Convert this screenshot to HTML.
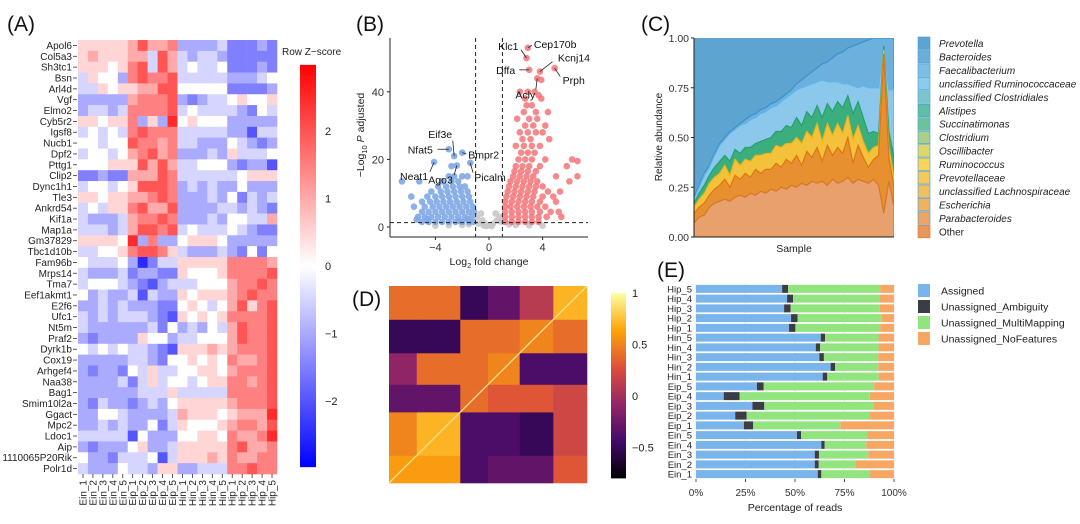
<!DOCTYPE html>
<html><head><meta charset="utf-8"><style>
html,body{margin:0;padding:0;background:#fff;}
svg{display:block;font-family:"Liberation Sans",sans-serif;}
</style></head><body>
<svg id="fig" width="1080" height="524" viewBox="0 0 1080 524" xmlns="http://www.w3.org/2000/svg">
<defs>
<linearGradient id="zgrad" x1="0" y1="0" x2="0" y2="1"><stop offset="0" stop-color="#ff0000"/><stop offset="0.5" stop-color="#ffffff"/><stop offset="1" stop-color="#0000ff"/></linearGradient>
<linearGradient id="igrad" x1="0" y1="1" x2="0" y2="0"><stop offset="0" stop-color="#000004"/><stop offset="0.2" stop-color="#420a68"/><stop offset="0.4" stop-color="#932667"/><stop offset="0.6" stop-color="#dd513a"/><stop offset="0.8" stop-color="#fca50a"/><stop offset="1" stop-color="#fcffa4"/></linearGradient>
<clipPath id="clipC"><rect x="694" y="38" width="200" height="199"/></clipPath>
</defs>
<g id="pA"></g>
<g id="pB"></g>
<g id="pC"></g>
<g id="pD"></g>
<g id="pE"></g>
</svg>
<script>
// ---------- Panel A data ----------
const genes = ["Apol6","Col5a3","Sh3tc1","Bsn","Arl4d","Vgf","Elmo2","Cyb5r2","Igsf8","Nucb1","Dpf2","Pttg1","Clip2","Dync1h1","Tle3","Ankrd54","Kif1a","Map1a","Gm37829","Tbc1d10b","Fam96b","Mrps14","Tma7","Eef1akmt1","E2f6","Ufc1","Nt5m","Praf2","Dyrk1b","Cox19","Arhgef4","Naa38","Bag1","Smim10l2a","Ggact","Mpc2","Ldoc1","Aip","1110065P20Rik","Polr1d"];
const samples = ["Ein_1","Ein_2","Ein_3","Ein_4","Ein_5","Eip_1","Eip_2","Eip_3","Eip_4","Eip_5","Hin_1","Hin_2","Hin_3","Hin_4","Hin_5","Hip_1","Hip_2","Hip_3","Hip_4","Hip_5"];
// z-scores coded a..k = -2.5..2.5 (step 0.5)
const zRows = ["ggggghjhhiddddecccdc","ghggghhejhedeedccccc","gggfgijejhefeefcccdc","egffdijiijeeeeedddef","eegfgghhjjfffffccccd","dddddhiiijdcdeefgffg","deedeiiiijefeeeedcfe","ggfggidgdkfgfffddddd","efefeijiiieeeeeddbee","ffeffjiihieedddfedcd","effefhijhidddedgeeef","fffgggjhjheefffdcddb","ccdcchhhjieeeeeefggg","effefgjjjidededdfddd","ggfgghhijidddedfcede","efeggijhhjddddeededc","edddehiijidddedffeeh","eeedehjjijefeeefedcc","ggggfkdiddfgggfddddd","eeffgijjigedddedcfcf","feeefdaceegggggiiiih","edddecddccgfffgiiiij","efffedcbdeeefffhiiji","fdeddebeddgfggghijii","ddededddccfgfefhjgij","ededeeedcbgfgfgiiiij","eddddddecfdedfehjiij","dcddddgffdeefffhjiij","fefefeedcbggghghiiij","dddddeedcffgfgfihhij","dcddcfegeeffggfhiiij","ddddecegeffefggiihij","ddddddeeegeeeeeiiiij","dceddcdedfggggghiiij","ddffeddddehgggfghhhk","ddededdfcegfffghiihj","eeeeebfdddffggfihhik","dcdddfgddegggggijhhi","fddceeefbeggghgihhii","edddfeedggddeeeiijii"];
const zTicks = [2,1,0,-1,-2];
// ---------- Panel B data ----------
const bluePts = [[-5,1.5],[-4.5,1.5],[-4,1.5],[-3.5,1.5],[-3,1.5],[-2.5,1.5],[-2,1.5],[-1.5,1.5],[-1.2,1.5],[-5.3,3],[-4.8,3],[-4.3,3],[-3.8,3],[-3.3,3],[-2.8,3],[-2.3,3],[-1.8,3],[-1.3,3],[-5,4.5],[-4.5,4.5],[-4,4.5],[-3.5,4.5],[-3,4.5],[-2.5,4.5],[-2,4.5],[-1.5,4.5],[-1.1,4.5],[-5.6,6],[-4.8,6],[-4.2,6],[-3.7,6],[-3.2,6],[-2.7,6],[-2.2,6],[-1.7,6],[-1.2,6],[-5,7.5],[-4.4,7.5],[-3.9,7.5],[-3.4,7.5],[-2.9,7.5],[-2.4,7.5],[-1.9,7.5],[-1.4,7.5],[-5.8,9],[-4.6,9],[-4,9],[-3.5,9],[-3,9],[-2.5,9],[-2,9],[-1.5,9],[-4.3,10.5],[-3.6,10.5],[-3.1,10.5],[-2.6,10.5],[-2.1,10.5],[-1.6,10.5],[-3.8,12],[-3.2,12],[-2.7,12],[-2.2,12],[-1.8,12],[-6.5,13.5],[-5.2,13.5],[-3.5,13.5],[-2.8,13.5],[-2.3,13.5],[-3,15],[-2.6,15],[-2,15],[-1.6,15],[-4.1,19.2],[-3,23],[-2.6,21],[-2,22],[-2.8,18],[-2.4,18.2],[-1.4,19],[-5.4,2.2],[-4.6,2.3],[-2.2,1.8],[-1.6,2.4]];
const redPts = [[1.2,1.5],[1.7,1.5],[2.2,1.5],[2.7,1.5],[3.2,1.5],[3.7,1.5],[1.2,3],[1.7,3],[2.2,3],[2.7,3],[3.2,3],[3.7,3],[4.3,3],[5.4,3],[1.2,4.5],[1.7,4.5],[2.2,4.5],[2.7,4.5],[3.2,4.5],[3.8,4.5],[4.6,4.5],[5.2,4.5],[1.2,6],[1.6,6],[2.1,6],[2.6,6],[3.1,6],[3.6,6],[4.2,6],[1.2,7.5],[1.7,7.5],[2.2,7.5],[2.7,7.5],[3.2,7.5],[3.8,7.5],[5,7.5],[1.3,9],[1.8,9],[2.3,9],[2.8,9],[3.3,9],[4,9],[4.8,9],[1.4,10.5],[1.9,10.5],[2.4,10.5],[2.9,10.5],[3.4,10.5],[4.4,10.5],[5.3,10.5],[1.5,12],[2,12],[2.5,12],[3,12],[3.5,12],[4,12],[1.6,13.5],[2.1,13.5],[2.6,13.5],[3.1,13.5],[3.6,13.5],[6,13.5],[1.8,15],[2.3,15],[2.8,15],[3.3,15],[5,15],[6.6,15],[1.9,16.5],[2.4,16.5],[2.9,16.5],[3.5,16.5],[2,18],[2.5,18],[3,18],[3.8,18],[5.8,18],[2.2,20],[2.7,20],[3.2,20],[4.2,20],[6.2,20],[6.6,19.5],[2.4,22],[2.9,22],[3.4,22],[2,24],[2.6,24],[3.2,24],[3.8,24],[2.5,26],[3.1,26],[4.5,26],[2.3,28],[2.9,28],[3.5,28],[4,28],[2.7,30],[3.3,30],[4.2,30],[2.1,32],[3,32],[3.6,32],[2.6,34],[3.5,34],[4.4,34],[2.8,36],[3.2,36],[2.7,38],[3.9,38],[2.3,40],[2.9,40],[3.4,40],[2.8,50],[2.9,53],[3,46.5],[3.8,46],[3.6,44],[4.9,47],[3.9,43.5],[3.7,39]];
const grayPts = [[-0.8,1],[-0.5,2],[-0.3,1],[0,0.5],[0.3,1],[0.6,2],[0.8,3],[-0.9,3],[0.5,4],[-0.6,4],[0.2,0.3],[-0.2,0.3],[0.9,1.5],[-0.4,0.5],[-3,0.5],[-2,0.6],[2,0.6],[3,0.5],[-1.5,0.8],[1.5,0.8],[-4,0.4],[4,0.4]];
const geneLabels = [["Klc1",2.8,50],["Cep170b",2.9,53],["Dffa",3,46.5],["Kcnj14",3.8,46],["Acly",3.6,44],["Prph",4.9,47],["Nfat5",-3,23],["Eif3e",-2.6,21],["Bmpr2",-2,22],["Neat1",-4.1,19.2],["Ago3",-2.4,18.2],["Picalm",-1.4,19]];
const labelOffsets = [[-8,-12],[6,-4],[-14,0],[18,-14],[-2,16],[8,12],[-16,0],[-2,-22],[6,2],[-6,14],[-4,14],[4,14]];
const bxTicks = [-4,0,4];
const byTicks = [0,20,40];
// ---------- Panel C data ----------
const taxa = ["Prevotella","Bacteroides","Faecalibacterium","unclassified Ruminococcaceae","unclassified Clostridiales","Alistipes","Succinatimonas","Clostridium","Oscillibacter","Ruminococcus","Prevotellaceae","unclassified Lachnospiraceae","Escherichia","Parabacteroides","Other"];
const taxaColors = ["#5ea4d0","#6aaedc","#7dbde6","#8ccbee","#79c6cc","#5fbfa6","#6cc39b","#a9cf8a","#ddd76a","#f6d55c","#f3c95a","#f0c060","#edb262","#eba564","#e8965e"];
const prevBound = [0.2,0.26,0.32,0.36,0.42,0.47,0.5,0.53,0.55,0.57,0.59,0.61,0.62,0.64,0.65,0.67,0.68,0.7,0.72,0.74,0.77,0.79,0.81,0.83,0.85,0.87,0.88,0.9,0.92,0.93,0.95,0.96,0.97,0.98,0.99,1,1,1,1,1];
const otherAb = [0.07,0.1,0.11,0.15,0.17,0.18,0.19,0.18,0.2,0.21,0.2,0.22,0.21,0.23,0.22,0.24,0.23,0.25,0.24,0.26,0.25,0.27,0.26,0.28,0.27,0.28,0.26,0.29,0.27,0.28,0.3,0.27,0.29,0.28,0.27,0.29,0.26,0.12,0.28,0.15];
const orangeAb = [0.05,0.05,0.06,0.06,0.07,0.08,0.1,0.07,0.11,0.08,0.12,0.08,0.13,0.09,0.12,0.1,0.14,0.1,0.15,0.11,0.16,0.09,0.17,0.12,0.18,0.1,0.2,0.12,0.18,0.14,0.2,0.1,0.17,0.12,0.08,0.1,0.15,0.8,0.12,0.1];
const yellowAb = [0.03,0.04,0.05,0.06,0.06,0.06,0.07,0.06,0.08,0.07,0.07,0.08,0.07,0.09,0.08,0.08,0.09,0.1,0.08,0.1,0.09,0.11,0.1,0.1,0.12,0.1,0.11,0.1,0.12,0.1,0.11,0.12,0.1,0.08,0.07,0.06,0.05,0.02,0.05,0.05];
const greenAb = [0.02,0.03,0.04,0.04,0.05,0.06,0.05,0.07,0.05,0.06,0.06,0.07,0.06,0.07,0.07,0.08,0.07,0.08,0.09,0.08,0.1,0.09,0.1,0.1,0.09,0.12,0.1,0.12,0.11,0.13,0.1,0.13,0.12,0.12,0.1,0.08,0.06,0.02,0.08,0.1];
const bacteroidesAb = [0.01,0.01,0.01,0.01,0.01,0.01,0.01,0.01,0.01,0.01,0.02,0.02,0.02,0.02,0.02,0.02,0.02,0.02,0.02,0.02,0.03,0.04,0.05,0.06,0.07,0.08,0.1,0.12,0.14,0.16,0.18,0.2,0.22,0.22,0.24,0.25,0.25,0.25,0.26,0.26];
const cTicks = ["0.00","0.25","0.50","0.75","1.00"];
// ---------- Panel D data ----------
const corrBounds = [0,0.14,0.36,0.5,0.66,0.83,1];
const corrMatrix = [
 [0.6,0.6,-0.4,-0.3,-0.3,0.3],
 [0.5,0.7,-0.4,-0.4,-0.5,0.2],
 [-0.3,-0.3,0.4,0.3,0.3,0.2],
 [-0.1,0.4,0.4,0.5,-0.4,-0.4],
 [-0.5,-0.5,0.4,0.4,0.5,0.4],
 [0.4,0.4,-0.5,-0.3,0.1,0.7]];
const dTicks = [1,0.5,0,-0.5];
// ---------- Panel E data ----------
const eSamples = ["Hip_5","Hip_4","Hip_3","Hip_2","Hip_1","Hin_5","Hin_4","Hin_3","Hin_2","Hin_1","Eip_5","Eip_4","Eip_3","Eip_2","Eip_1","Ein_5","Ein_4","Ein_3","Ein_2","Ein_1"];
const assigned = [43.5,46,44.5,48,47,63,60.5,62.3,68,64,30.8,14,28.5,19.8,24.2,51,63.3,60,60,61.5];
const ambiguity = [3,3,3.3,3.3,3.2,2.2,2.2,2.3,2.3,2.3,3.4,8,6,5.8,4.7,2.1,1.7,2.1,2,1.8];
const multiMapping = [46.5,43.5,45,42.5,42.8,27,29.5,27.4,21.7,26,55.8,65.8,55,62,44,33.5,21,24.9,18.8,24.6];
const noFeatures = [7,7.5,7.2,6.2,7,7.8,7.8,8,8,7.7,10,12.2,10.5,12.4,27.1,13.4,14,13,19.2,12.1];
const eCats = ["Assigned","Unassigned_Ambiguity","Unassigned_MultiMapping","Unassigned_NoFeatures"];
const eColors = ["#79b4ea","#3c3c44","#92e57e","#f6a764"];
const eTicks = [0,25,50,75,100];

const NS="http://www.w3.org/2000/svg";
function mk(parent, tag, attrs, text){const e=document.createElementNS(NS,tag);for(const k in attrs)e.setAttribute(k,attrs[k]);if(text!==undefined)e.textContent=text;parent.appendChild(e);return e;}
const fig=document.getElementById('fig');

[["(A)",7,31],["(B)",356,31],["(C)",641,31],["(D)",352,306],["(E)",657,277]].forEach(t=>{
 const e=mk(fig,'text',{x:t[1],y:t[2],'font-size':21,fill:'#111'},t[0]);
 
 
});

// ===== Panel A =====
(function(){
 const g=document.getElementById('pA');
 const x0=78,x1=277,y0=40,y1=474;
 const cw=(x1-x0)/samples.length, rh=(y1-y0)/genes.length;
 const zy=v=>266-v*67.5;
 function zcol(v){v=Math.max(-3,Math.min(3,v));const t=Math.abs(v)/3;const c=Math.round(255*(1-t));return v>=0?`rgb(255,${c},${c})`:`rgb(${c},${c},255)`;}
 genes.forEach((gn,i)=>{
  const yc=y0+(i+0.5)*rh;
  const lab=mk(g,'text',{x:72,y:yc+3.5,'font-size':10,'text-anchor':'end',fill:'#222'},gn);
  
  
  mk(g,'line',{x1:73,x2:77,y1:yc,y2:yc,stroke:'#333','stroke-width':0.8});
  for(let j=0;j<samples.length;j++){
   const v=(zRows[i].charCodeAt(j)-102)*0.5;
   const r=mk(g,'rect',{x:x0+j*cw,y:y0+i*rh,width:cw+0.3,height:rh+0.3,fill:zcol(v)});
   
   
  }
 });
 samples.forEach((s,j)=>{
  const xc=x0+(j+0.5)*cw;
  mk(g,'line',{x1:xc,x2:xc,y1:474,y2:478,stroke:'#333','stroke-width':0.8});
  const t=mk(g,'text',{x:0,y:0,'font-size':10,'text-anchor':'end',fill:'#222',transform:`translate(${xc+3.5},480) rotate(-90)`},s);
  
  
 });
 const tl=mk(g,'text',{x:282,y:55,'font-size':10,fill:'#222'},'Row Z−score');
 
 
 const cb=mk(g,'rect',{x:300,y:zy(2.98),width:16,height:zy(-2.98)-zy(2.98),fill:'url(#zgrad)'});
 
 
 zTicks.forEach(v=>{
  const t=mk(g,'text',{x:325,y:zy(v)+4,'font-size':11,fill:'#222'},v<0?'−'+Math.abs(v):String(v));
  
  
 });
})();

// ===== Panel B =====
(function(){
 const g=document.getElementById('pB');
 const sx=v=>489+v*13.4, sy=v=>227-v*3.38;
 mk(g,'line',{x1:390,y1:38,x2:390,y2:237,stroke:'#222','stroke-width':1});
 mk(g,'line',{x1:390,y1:237,x2:588,y2:237,stroke:'#222','stroke-width':1});
 bxTicks.forEach(v=>{mk(g,'line',{x1:sx(v),x2:sx(v),y1:237,y2:240,stroke:'#222'});
  const t=mk(g,'text',{x:sx(v),y:251,'font-size':11,'text-anchor':'middle',fill:'#333'},v<0?'−'+Math.abs(v):String(v));
  
  });
 byTicks.forEach(v=>{mk(g,'line',{x1:387,x2:390,y1:sy(v),y2:sy(v),stroke:'#222'});
  const t=mk(g,'text',{x:384,y:sy(v)+4,'font-size':11,'text-anchor':'end',fill:'#333'},String(v));
  
  });
 grayPts.forEach(p=>{const c=mk(g,'circle',{cx:sx(p[0]),cy:sy(p[1]),r:3.3,fill:'#c8c8c8','fill-opacity':0.9});
  
  });
 bluePts.forEach(p=>{const c=mk(g,'circle',{cx:sx(p[0]),cy:sy(p[1]),r:3.3,fill:'#7fa8e6','fill-opacity':0.9});
  
  });
 redPts.forEach(p=>{const c=mk(g,'circle',{cx:sx(p[0]),cy:sy(p[1]),r:3.3,fill:'#f47478','fill-opacity':0.85});
  
  });
 [-1,1].forEach(v=>mk(g,'line',{x1:sx(v),x2:sx(v),y1:38,y2:237,stroke:'#222','stroke-dasharray':'4,3','stroke-width':1}));
 mk(g,'line',{x1:390,x2:588,y1:sy(1.3),y2:sy(1.3),stroke:'#222','stroke-dasharray':'4,3','stroke-width':1});
 geneLabels.forEach((l,i)=>{
  const px=sx(l[1]),py=sy(l[2]),o=labelOffsets[i];
  mk(g,'line',{x1:px,y1:py,x2:px+o[0]*0.7,y2:py+o[1]*0.7,stroke:'#222','stroke-width':0.8});
  const t=mk(g,'text',{x:px+o[0],y:py+o[1]+4,'font-size':10.5,'text-anchor':o[0]<0?'end':'start',fill:'#111'},l[0]);
  
  
 });
 const yl=mk(g,'text',{x:0,y:0,'font-size':10.5,'text-anchor':'middle',fill:'#222',transform:'translate(364,135) rotate(-90)'});
 yl.innerHTML='−Log<tspan font-size="7.5" dy="3">10</tspan><tspan dy="-3"> </tspan><tspan font-style="italic">P</tspan> adjusted';
 
 
 const xl=mk(g,'text',{x:489,y:265,'font-size':10.5,'text-anchor':'middle',fill:'#222'});
 xl.innerHTML='Log<tspan font-size="7.5" dy="3">2</tspan><tspan dy="-3"> fold change</tspan>';
 
 
})();

// ===== Panel C =====
(function(){
 const g=document.getElementById('pC');
 const x0=694,x1=894,y0=38,y1=237,n=prevBound.length;
 const sx=i=>x0+i*(x1-x0)/(n-1), sy=v=>y1-v*(y1-y0);
 mk(g,'rect',{x:x0,y:y0,width:x1-x0,height:y1-y0,fill:taxaColors[0]});
 const cg=mk(g,'g',{'clip-path':'url(#clipC)'});
 const layers=[otherAb,orangeAb,yellowAb,greenAb];
 const fills=["#e8a06c","#e6902f","#f3c23a","#3cae7e"];
 const strokes=["#d8762a","#e07412","#efb418","#23a070"];
 const cum=new Array(n).fill(0);
 const tops=[];
 layers.forEach(L=>{const t=cum.map((c,i)=>c+L[i]);tops.push(t);for(let i=0;i<n;i++)cum[i]=t[i];});
 const lbTop=prevBound.map((p,i)=>Math.max(cum[i],p-bacteroidesAb[i]));
 const bacTop=prevBound.map((p,i)=>Math.max(lbTop[i],p));
 const allTops=[...tops,lbTop,bacTop];
 const allFill=[...fills,"#8cc7ec","#6cb0de"];
 const allStroke=[...strokes,"#5fb6e6","#3d8fcc"];
 const names=["area-other","area-orange-taxa","area-yellow-taxa","area-green-taxa","area-light-blue-taxa","area-bacteroides"];
 for(let k=allTops.length-1;k>=0;k--){
  const T=allTops[k];
  let d=`M${x0},${y1}`;T.forEach((v,i)=>d+=` L${sx(i)},${sy(v)}`);d+=` L${x1},${y1} Z`;
  const p=mk(cg,'path',{d:d,fill:allFill[k],stroke:allStroke[k],'stroke-width':1.2});
  
  
 }
 mk(g,'line',{x1:x0,y1:y0,x2:x0,y2:y1,stroke:'#222'});
 mk(g,'line',{x1:x0,y1:y1,x2:x1,y2:y1,stroke:'#222'});
 cTicks.forEach((t,i)=>{const y=sy(i*0.25);mk(g,'line',{x1:x0-3,x2:x0,y1:y,y2:y,stroke:'#222'});
  const e=mk(g,'text',{x:x0-5,y:y+4,'font-size':10.5,'text-anchor':'end',fill:'#333'},t);
  
  });
 const yl=mk(g,'text',{x:0,y:0,'font-size':10,'text-anchor':'middle',fill:'#222',transform:'translate(662,137) rotate(-90)'},'Relative abundance');
 
 
 const xl=mk(g,'text',{x:794,y:252,'font-size':10.5,'text-anchor':'middle',fill:'#222'},'Sample');
 
 
 taxa.forEach((t,i)=>{const y=37+i*13.45;
  const r=mk(g,'rect',{x:918,y:y,width:12,height:12.5,fill:taxaColors[i],stroke:i<14?'#4a9bd0':'#e07a20','stroke-width':0.6});
  
  
  const e=mk(g,'text',{x:939,y:y+10,'font-size':10,'font-style':i==14?'normal':'italic',fill:'#222'},t);
  
  });
})();

// ===== Panel D =====
(function(){
 const g=document.getElementById('pD');
 const x0=389,x1=587,y0=286,y1=483,W=x1-x0,H=y1-y0;
 const stops=[[0,0,0,4],[0.2,66,10,104],[0.4,147,38,103],[0.6,221,81,58],[0.8,252,165,10],[1,252,255,164]];
 function inf(v){let t=(v+0.8)/1.8;t=Math.max(0,Math.min(1,t));for(let i=1;i<stops.length;i++){if(t<=stops[i][0]){const a=stops[i-1],b=stops[i],f=(t-a[0])/(b[0]-a[0]);return `rgb(${Math.round(a[1]+f*(b[1]-a[1]))},${Math.round(a[2]+f*(b[2]-a[2]))},${Math.round(a[3]+f*(b[3]-a[3]))})`;}}return 'rgb(252,255,164)';}
 for(let j=0;j<corrMatrix.length;j++)for(let i=0;i<corrMatrix[j].length;i++){
  const xa=x0+corrBounds[i]*W, xb=x0+corrBounds[i+1]*W;
  const ya=y1-corrBounds[j+1]*H, yb=y1-corrBounds[j]*H;
  const r=mk(g,'rect',{x:xa,y:ya,width:xb-xa+0.3,height:yb-ya+0.3,fill:inf(corrMatrix[j][i])});
  
  
 }
 mk(g,'line',{x1:x0,y1:y1,x2:x1,y2:y0,stroke:'#fce08a','stroke-width':1.3});
 const dy=v=>396-v*103;
 const cb=mk(g,'rect',{x:611,y:dy(1),width:15,height:dy(-0.8)-dy(1),fill:'url(#igrad)'});
 
 
 dTicks.forEach(v=>{const t=mk(g,'text',{x:632,y:dy(v)+4,'font-size':11,fill:'#222'},v<0?'−'+Math.abs(v):String(v));
  
  });
})();

// ===== Panel E =====
(function(){
 const g=document.getElementById('pE');
 const x0=696,x1=894,y0=284,pitch=9.75;
 const sx=v=>x0+v/100*(x1-x0);
 eTicks.forEach(v=>mk(g,'line',{x1:sx(v),x2:sx(v),y1:y0,y2:y0+20*pitch,stroke:'#e4e4e4','stroke-width':0.8}));
 const series=[assigned,ambiguity,multiMapping,noFeatures];
 eSamples.forEach((s,i)=>{
  const yc=y0+(i+0.5)*pitch;
  let acc=0;
  series.forEach((S,k)=>{
   const r=mk(g,'rect',{x:sx(acc),y:yc-4,width:sx(acc+S[i])-sx(acc),height:8,fill:eColors[k]});
   
   
   acc+=S[i];
  });
  const t=mk(g,'text',{x:692,y:yc+3.5,'font-size':9.5,'text-anchor':'end',fill:'#222'},s);
  
  
 });
 eTicks.forEach(v=>{mk(g,'line',{x1:sx(v),x2:sx(v),y1:y0+20*pitch,y2:y0+20*pitch+3,stroke:'#555'});
  const t=mk(g,'text',{x:sx(v),y:496,'font-size':10,'text-anchor':'middle',fill:'#333'},v+'%');
  
  });
 const xl=mk(g,'text',{x:795,y:511,'font-size':10.5,'text-anchor':'middle',fill:'#222'},'Percentage of reads');
 
 
 eCats.forEach((c,k)=>{const y=284+k*16;
  const r=mk(g,'rect',{x:918,y:y,width:12,height:13,fill:eColors[k]});
  
  
  const t=mk(g,'text',{x:941,y:y+10.5,'font-size':10.5,fill:'#222'},c);
  
  });
})();
</script>
</body></html>
